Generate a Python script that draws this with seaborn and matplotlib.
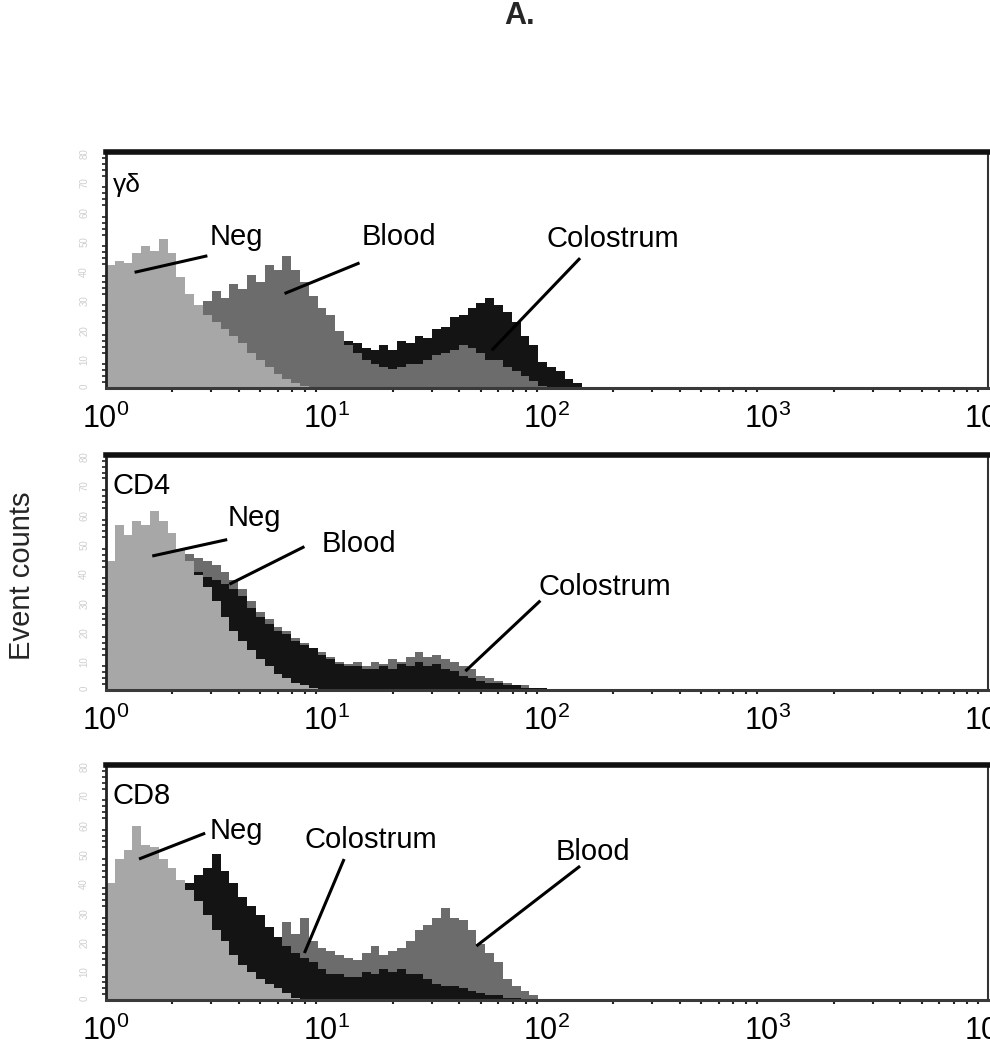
import numpy as np
import pandas as pd
import seaborn as sns
import matplotlib.pyplot as plt
from matplotlib.ticker import MultipleLocator, FixedLocator, FuncFormatter

# Histogram channels in log10 units (bin width 0.04 decade, first bin 0-0.04)
BIN_START = 0.0
BIN_WIDTH = 0.04

# --- gamma-delta panel (heights as % of panel height) ---
gd_neg = [52, 54, 53, 57, 60, 58, 63, 57, 47, 40, 35, 31, 28, 25, 22, 19, 15, 12, 9, 6,
          4, 2, 1, 0, 0, 0, 0, 0, 0, 0, 0, 0, 0, 0, 0, 0, 0, 0, 0, 0,
          0, 0, 0, 0, 0, 0, 0, 0, 0, 0, 0, 0, 0, 0, 0, 0]
gd_blood = [10, 12, 14, 16, 18, 20, 22, 24, 27, 30, 34, 37, 41, 38, 44, 42, 48, 45, 52, 50,
            56, 50, 45, 39, 34, 31, 24, 18, 15, 12, 10, 9, 8, 9, 10, 10, 12, 14, 15, 16,
            18, 17, 15, 12, 12, 9, 7, 5, 3, 1, 0, 0, 0, 0, 0, 0]
gd_colostrum = [5, 6, 7, 8, 9, 10, 11, 12, 13, 14, 15, 16, 17, 18, 19, 20, 21, 22, 22, 23,
                23, 24, 24, 28, 26, 25, 22, 20, 19, 17, 16, 18, 16, 20, 19, 22, 21, 25, 26, 30,
                31, 34, 36, 38, 35, 32, 28, 22, 18, 11, 9, 7, 4, 2, 0, 0]

# --- CD4 panel ---
cd4_neg = [55, 70, 66, 72, 70, 76, 72, 67, 60, 55, 49, 44, 38, 31, 25, 21, 17, 13, 10, 7,
           5, 3, 2, 1, 0, 0, 0, 0, 0, 0, 0, 0, 0, 0, 0, 0, 0, 0, 0, 0,
           0, 0, 0, 0, 0, 0, 0, 0, 0, 0, 0, 0, 0, 0, 0, 0]
cd4_blood = [20, 24, 28, 32, 36, 40, 45, 50, 56, 58, 56, 55, 53, 50, 47, 43, 38, 33, 30, 27,
             25, 22, 20, 18, 16, 14, 12, 11, 12, 10, 12, 11, 13, 12, 14, 16, 14, 15, 13, 12,
             10, 9, 6, 5, 4, 3, 2, 2, 1, 1, 0, 0, 0, 0, 0, 0]
cd4_colostrum = [15, 19, 23, 27, 31, 35, 39, 43, 46, 48, 50, 48, 47, 45, 43, 40, 35, 31, 28, 25,
                 24, 21, 19, 18, 15, 13, 11, 10, 10, 9, 9, 10, 9, 11, 10, 12, 10, 11, 9, 8,
                 6, 5, 4, 3, 3, 2, 2, 1, 1, 1, 0, 0, 0, 0, 0, 0]

# --- CD8 panel ---
cd8_neg = [50, 60, 64, 74, 66, 65, 60, 56, 51, 47, 42, 36, 30, 25, 19, 15, 12, 9, 7, 5,
           3, 1, 0, 0, 0, 0, 0, 0, 0, 0, 0, 0, 0, 0, 0, 0, 0, 0, 0, 0,
           0, 0, 0, 0, 0, 0, 0, 0, 0, 0, 0, 0, 0, 0, 0, 0]
cd8_blood = [5, 8, 10, 12, 15, 18, 20, 22, 25, 28, 30, 32, 34, 36, 38, 37, 34, 33, 31, 27,
             33, 28, 35, 25, 22, 21, 19, 18, 17, 20, 23, 19, 21, 22, 25, 30, 32, 35, 39, 35,
             34, 30, 24, 20, 16, 9, 6, 4, 2, 0, 0, 0, 0, 0, 0, 0]
cd8_colostrum = [8, 12, 16, 20, 25, 30, 36, 42, 48, 50, 53, 56, 62, 55, 50, 44, 40, 36, 31, 27,
                 23, 20, 18, 16, 13, 11, 11, 10, 10, 12, 11, 13, 12, 13, 11, 11, 9, 7, 6, 6,
                 5, 4, 3, 2, 2, 1, 1, 0, 0, 0, 0, 0, 0, 0, 0, 0]

NEG_COLOR = "#a7a7a7"
BLOOD_COLOR = "#6c6c6c"
COLOS_COLOR = "#141414"

# panel: name, layers back-to-front, labels (text, text xy, line start, line end)
panels = [
    ("\u03b3\u03b4", [(gd_colostrum, COLOS_COLOR), (gd_blood, BLOOD_COLOR), (gd_neg, NEG_COLOR)],
     [("Neg", (0.47, 64), (0.13, 49), (0.46, 56)),
      ("Blood", (1.16, 64), (0.81, 40), (1.15, 53)),
      ("Colostrum", (2.0, 63), (1.75, 16), (2.15, 55))]),
    ("CD4", [(cd4_blood, BLOOD_COLOR), (cd4_colostrum, COLOS_COLOR), (cd4_neg, NEG_COLOR)],
     [("Neg", (0.55, 73), (0.21, 57), (0.55, 64)),
      ("Blood", (0.98, 62), (0.56, 45), (0.90, 61)),
      ("Colostrum", (1.96, 44), (1.63, 8), (1.97, 38))]),
    ("CD8", [(cd8_blood, BLOOD_COLOR), (cd8_colostrum, COLOS_COLOR), (cd8_neg, NEG_COLOR)],
     [("Neg", (0.47, 72), (0.15, 60), (0.45, 71)),
      ("Colostrum", (0.90, 68), (0.90, 20), (1.08, 60)),
      ("Blood", (2.04, 63), (1.68, 23), (2.15, 57))]),
]

sns.set_theme(style="white")
plt.rcParams["font.family"] = ["Liberation Sans", "DejaVu Sans"]
plt.rcParams["mathtext.fontset"] = "custom"
plt.rcParams["mathtext.rm"] = "Liberation Sans"
plt.rcParams["mathtext.it"] = "Liberation Sans"

fig = plt.figure(figsize=(9.9, 10.5), dpi=100)
boxes = [(0.107, 0.6305, 0.891, 0.2248),
         (0.107, 0.3429, 0.891, 0.2238),
         (0.107, 0.0476, 0.891, 0.2238)]

n_bins = len(gd_neg)
bin_end = BIN_START + BIN_WIDTH * n_bins
centers = BIN_START + BIN_WIDTH * (np.arange(n_bins) + 0.5)
minor_x = [k + np.log10(m) for k in range(4) for m in range(2, 10)]

for box, (name, layers, labels) in zip(boxes, panels):
    ax = fig.add_axes(box)
    for vals, col in layers:
        df = pd.DataFrame({"channel": centers, "count": vals})
        sns.histplot(data=df, x="channel", weights="count", binwidth=BIN_WIDTH,
                     binrange=(BIN_START, bin_end), element="step",
                     fill=True, color=col, alpha=1, linewidth=0, ax=ax)
    ax.set_xlim(0, 4)
    ax.set_ylim(0, 100)
    ax.set_xlabel("")
    ax.set_ylabel("")

    # decade ticks like a flow cytometry log axis
    ax.xaxis.set_major_locator(FixedLocator([0, 1, 2, 3, 4]))
    ax.xaxis.set_minor_locator(FixedLocator(minor_x))
    ax.set_xticklabels([r"$10^{%d}$" % k for k in range(5)], fontsize=22, color="black")
    ax.yaxis.set_major_locator(MultipleLocator(12.5))
    ax.yaxis.set_minor_locator(MultipleLocator(2.5))
    ax.yaxis.set_major_formatter(FuncFormatter(lambda v, p: f"{v * 0.8:.0f}"))
    ax.tick_params(axis="x", which="major", direction="out", length=7, width=2,
                   color="#222222", pad=4)
    ax.tick_params(axis="x", which="minor", direction="out", length=3, width=1.5,
                   color="#222222", bottom=True)
    ax.tick_params(axis="y", which="major", direction="out", length=6, width=2,
                   color="#222222", labelsize=7, labelcolor="#cfcfcf", labelrotation=90, pad=6)
    ax.tick_params(axis="y", which="minor", direction="out", length=3, width=1.2,
                   color="#222222", left=True)

    ax.spines["top"].set_linewidth(4)
    ax.spines["top"].set_color("#111111")
    ax.spines["bottom"].set_linewidth(2.2)
    ax.spines["bottom"].set_color("#3a3a3a")
    ax.spines["left"].set_linewidth(2)
    ax.spines["left"].set_color("#222222")
    ax.spines["right"].set_linewidth(1.5)
    ax.spines["right"].set_color("#333333")

    is_gd = name == "\u03b3\u03b4"
    ax.text(0.03, 86 if is_gd else 87, name, fontsize=19 if is_gd else 21,
            ha="left", va="center", color="black")
    for txt, (tx, ty), (x0, y0), (x1, y1) in labels:
        ax.plot([x0, x1], [y0, y1], color="black", linewidth=2.2, solid_capstyle="butt")
        ax.text(tx, ty, txt, fontsize=21, ha="left", va="center", color="black")

fig.text(0.525, 0.985, "A.", fontsize=22, fontweight="bold", ha="center", va="center")
fig.text(0.022, 0.452, "Event counts", fontsize=21, rotation=90, ha="center", va="center")

fig.savefig("out.png", dpi=100)
